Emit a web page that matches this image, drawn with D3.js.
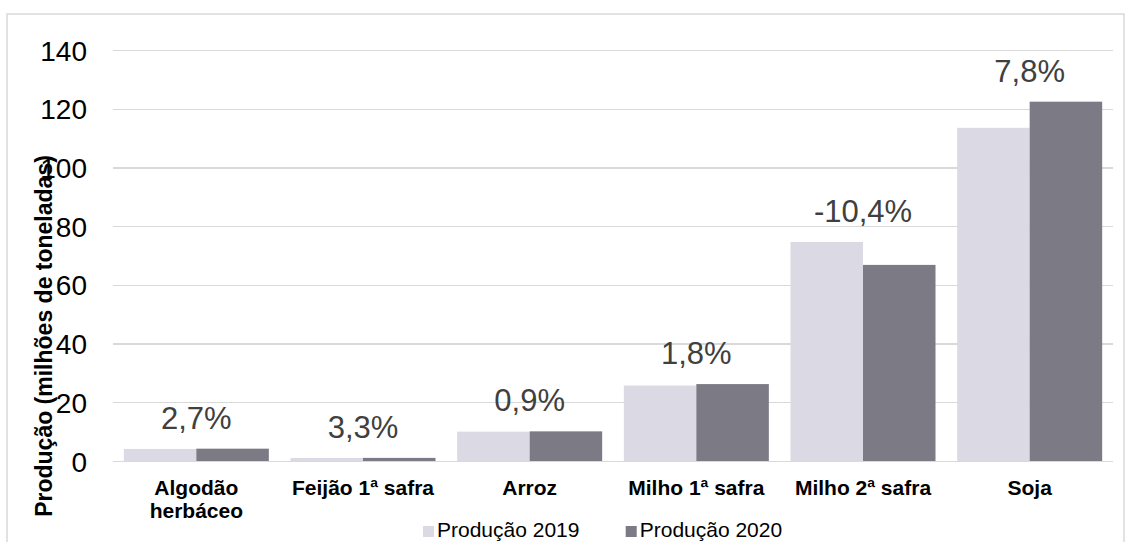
<!DOCTYPE html>
<html lang="pt">
	<head>
		<meta charset="utf-8">
		<title>Produção por cultura</title>
		<script src="https://d3js.org/d3.v7.min.js"></script>
		<style type="text/css">
			body { margin: 0; background: #fff; }
			svg text { font-family: Arial, "Liberation Sans", sans-serif; }
			.grid line { stroke: #d9d9d9; stroke-width: 1.3px; shape-rendering: crispEdges; }
			.grid text { font-size: 28px; fill: #000; }
			.cat text { font-size: 21px; font-weight: bold; fill: #000; }
		</style>
	</head>
	<body>
		<script type="text/javascript">

			var categories = ["Algodão herbáceo", "Feijão 1ª safra", "Arroz", "Milho 1ª safra", "Milho 2ª safra", "Soja"];
			var series     = ["Produção 2019", "Produção 2020"];
			var prod2019   = [4.1, 1.03, 10.0, 25.7, 74.6, 113.5];
			var prod2020   = [4.2, 1.06, 10.1, 26.2, 66.8, 122.4];
			var variacao   = ["2,7%", "3,3%", "0,9%", "1,8%", "-10,4%", "7,8%"];
			var yTicks     = [0, 20, 40, 60, 80, 100, 120, 140];
			var colors     = ["#dbd9e3", "#7b7a85"];

			var W = 1125, H = 542,
				plot = { left: 113, right: 1113, top: 50, bottom: 461 };

			var data = categories.map(function(c, i){
				return { cat: c, values: [prod2019[i], prod2020[i]], label: variacao[i] };
			});

			var svg = d3.select("body").append("svg")
				.attr("width", W)
				.attr("height", H);

			// outer frame
			svg.append("rect")
				.attr("x", 7).attr("y", 14)
				.attr("width", 1117).attr("height", 540)
				.attr("fill", "none")
				.attr("stroke", "#d9d9d9")
				.attr("stroke-width", 1.5);

			var x0 = d3.scaleBand()
				.domain(categories)
				.range([plot.left, plot.right])
				.paddingInner(0.13)
				.paddingOuter(0.065);

			var x1 = d3.scaleBand()
				.domain(series)
				.range([0, x0.bandwidth()]);

			var y = d3.scaleLinear()
				.domain([0, 140])
				.range([plot.bottom, plot.top]);

			// gridlines + y labels
			var yAxis = d3.axisLeft(y)
				.tickValues(yTicks)
				.tickSize(-(plot.right - plot.left))
				.tickPadding(26);

			svg.append("g")
				.attr("class", "grid")
				.attr("transform", "translate(" + plot.left + ",0)")
				.call(yAxis)
				.call(function(g){ g.select(".domain").remove(); })
				.selectAll("text").attr("dy", "0.36em");

			// bars
			var groups = svg.selectAll("g.cat-group")
				.data(data)
				.enter()
				.append("g")
				.attr("class", "cat-group")
				.attr("transform", function(d){ return "translate(" + x0(d.cat) + ",0)"; });

			groups.selectAll("rect")
				.data(function(d){ return d.values.map(function(v, i){ return { s: series[i], v: v, i: i }; }); })
				.enter()
				.append("rect")
				.attr("x", function(d){ return x1(d.s); })
				.attr("y", function(d){ return y(d.v); })
				.attr("width", x1.bandwidth())
				.attr("height", function(d){ return y(0) - y(d.v); })
				.attr("fill", function(d){ return colors[d.i]; });

			// variation labels
			groups.append("text")
				.attr("x", x0.bandwidth() / 2)
				.attr("y", function(d){ return y(d3.max(d.values)) - 20; })
				.attr("text-anchor", "middle")
				.attr("font-size", "31px")
				.attr("fill", "#404040")
				.text(function(d){ return d.label; });

			// category axis
			var xAxis = d3.axisBottom(x0).tickSize(0).tickPadding(19);

			svg.append("g")
				.attr("class", "cat")
				.attr("transform", "translate(0," + plot.bottom + ")")
				.call(xAxis)
				.call(function(g){ g.select(".domain").remove(); })
				.selectAll("text")
				.each(function(d){
					var t = d3.select(this);
					if (this.getComputedTextLength() > x0.step()) {
						var words = d.split(" ");
						t.text(null);
						words.forEach(function(w, i){
							t.append("tspan")
								.attr("x", 0)
								.attr("dy", i === 0 ? "0.71em" : "1.1em")
								.text(w);
						});
						t.attr("dy", null);
					}
				});

			// y title
			svg.append("text")
				.attr("transform", "translate(52,336) rotate(-90)")
				.attr("text-anchor", "middle")
				.attr("font-size", "23px")
				.attr("font-weight", "bold")
				.attr("fill", "#000")
				.text("Produção (milhões de toneladas)");

			// legend
			var legend = svg.append("g")
				.selectAll("g")
				.data(series)
				.enter()
				.append("g")
				.attr("transform", function(d, i){ return "translate(" + (423 + i * 202.7) + ",526)"; });

			legend.append("rect")
				.attr("width", 11).attr("height", 11)
				.attr("fill", function(d, i){ return colors[i]; });

			legend.append("text")
				.attr("x", 14)
				.attr("y", 11)
				.attr("font-size", "21px")
				.attr("fill", "#000")
				.text(function(d){ return d; });

		</script>
	</body>
</html>
